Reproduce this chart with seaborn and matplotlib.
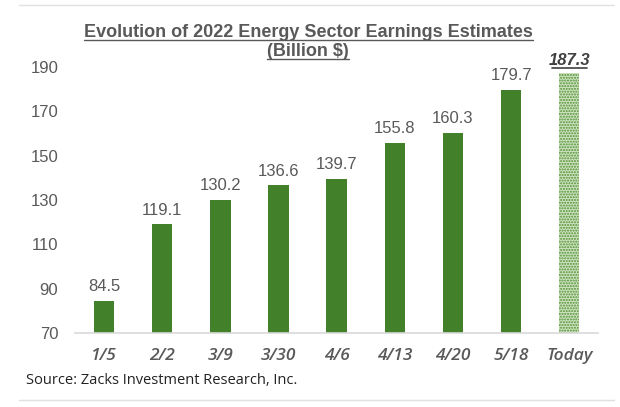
import matplotlib
matplotlib.use("Agg")
import matplotlib.pyplot as plt
import seaborn as sns
import pandas as pd

categories = ["1/5", "2/2", "3/9", "3/30", "4/6", "4/13", "4/20", "5/18", "Today"]
values = [84.5, 119.1, 130.2, 136.6, 139.7, 155.8, 160.3, 179.7, 187.3]
yticks = [70, 90, 110, 130, 150, 170, 190]

sns.set_theme(style="white")
plt.rcParams['font.family'] = ['Liberation Sans', 'DejaVu Sans']
plt.rcParams['hatch.linewidth'] = 1.0

df = pd.DataFrame({"date": categories, "value": values})

fig = plt.figure(figsize=(6.2, 4.07), dpi=100)
ax = fig.add_axes([0.121, 0.182, 0.844, 0.653])

green = "#43802a"
sns.barplot(data=df, x="date", y="value", color=green, width=0.35, ax=ax,
            saturation=1)

ax.set_ylim(70, 190)
for i, p in enumerate(ax.patches):
    y0 = 70
    p.set_y(y0)
    p.set_height(values[i] - y0)
    p.set_linewidth(0)
    if categories[i] == "Today":
        p.set_facecolor("#cfe3c0")
        p.set_edgecolor("#4f8f32")
        p.set_hatch("......")
        p.set_linewidth(0)

for i, v in enumerate(values):
    if categories[i] == "Today":
        ax.text(i, v + 2.5, f"{v:.1f}", ha="center", va="bottom", fontsize=12,
                fontweight="bold", fontstyle="italic", color="#404040")
        ax.plot([i - 0.3, i + 0.3], [v + 2.2, v + 2.2], color="#404040",
                lw=1.2, clip_on=False)
    else:
        ax.text(i, v + 3, f"{v:.1f}", ha="center", va="bottom", fontsize=12,
                color="#595959")

ax.set_yticks(yticks)
ax.set_yticklabels([str(t) for t in yticks], fontsize=12, color="#595959")
ax.set_xticks(range(len(categories)))
ax.set_xticklabels(categories, fontsize=12.5, fontstyle="italic",
                   fontweight="semibold", color="#595959",
                   family=["Open Sans", "DejaVu Sans"])
ax.tick_params(axis="y", length=0, pad=12)
ax.tick_params(axis="x", length=0, pad=11)
ax.set_xlabel("")
ax.set_ylabel("")
for s in ["top", "right", "left"]:
    ax.spines[s].set_visible(False)
ax.spines["bottom"].set_color("#d9d9d9")
ax.spines["bottom"].set_linewidth(1.2)
ax.set_xlim(-0.5, len(categories) - 0.5)

t1 = fig.text(0.497, 0.919, "Evolution of 2022 Energy Sector Earnings Estimates",
              ha="center", va="center", fontsize=13, fontweight="bold",
              color="#595959")
t2 = fig.text(0.497, 0.873, "(Billion $)", ha="center", va="center",
              fontsize=13, fontweight="bold", color="#595959")

fig.canvas.draw()
r = fig.canvas.get_renderer()
inv = fig.transFigure.inverted()
for t in (t1, t2):
    bb = t.get_window_extent(r)
    (x0, y0), (x1, y1) = inv.transform([[bb.x0, bb.y0 + 1], [bb.x1, bb.y0 + 1]])
    fig.add_artist(plt.Line2D([x0, x1], [y0, y0], color="#595959", lw=1.0,
                              transform=fig.transFigure))

fig.text(0.042, 0.066, "Source: Zacks Investment Research, Inc.", ha="left",
         va="center", fontsize=10.5, color="#222222",
         family=["Open Sans", "DejaVu Sans"])

fig.add_artist(plt.Line2D([0.03, 0.99], [0.988, 0.988], color="#e0e0e0", lw=1,
                          transform=fig.transFigure))
fig.add_artist(plt.Line2D([0.03, 0.99], [0.017, 0.017], color="#e0e0e0", lw=1,
                          transform=fig.transFigure))

fig.savefig("out.png", dpi=100, facecolor="white")
